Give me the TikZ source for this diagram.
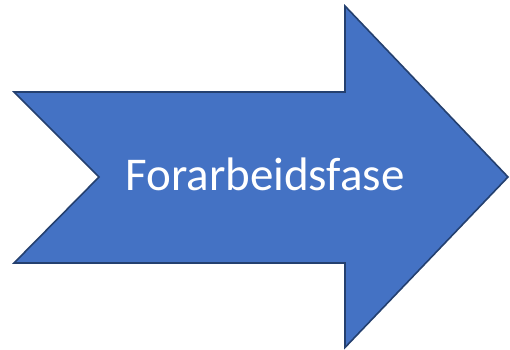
\documentclass[tikz,border=0pt]{standalone}
\usepackage{fontspec}
\setmainfont{Carlito}
\definecolor{fillblue}{HTML}{4472C4}
\definecolor{edgeblue}{HTML}{24406F}
\tikzset{arrowshape/.style={fill=fillblue,draw=edgeblue,line width=1.6pt,line join=miter}}
\begin{document}
\begin{tikzpicture}[x=1pt,y=1pt]
\useasboundingbox (0,0) rectangle (510,349);
\draw[arrowshape] (14,257) -- (345,257) -- (345,343) -- (508,172) -- (345,1.5) -- (345,86) -- (14,86) -- (99,172) -- cycle;
\node[text=white,font=\fontsize{47}{52}\selectfont,anchor=base,inner sep=0pt] (label) at (265,159) {Forarbeidsfase};
\end{tikzpicture}
\end{document}
